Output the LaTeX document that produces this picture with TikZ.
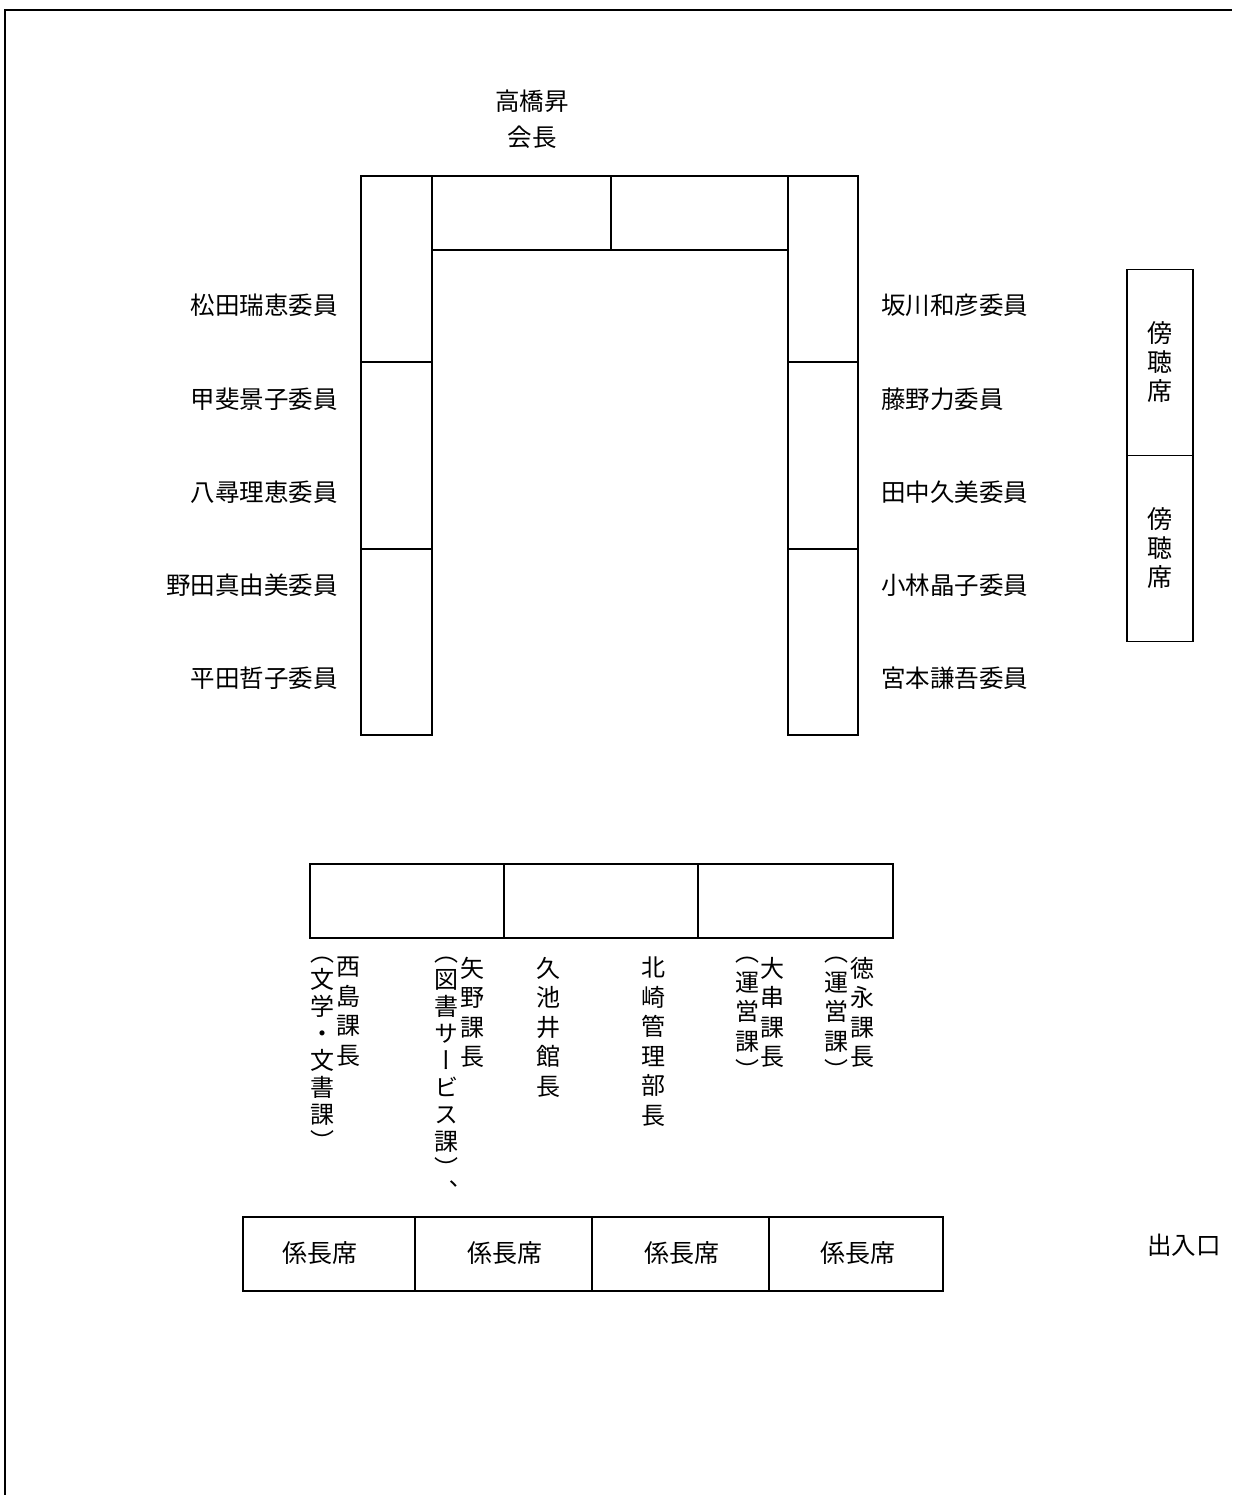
\documentclass[tikz,border=0pt]{standalone}
\usepackage{fontspec}
\setmainfont{Noto Sans CJK JP}
\newfontfamily\cjkv[RawFeature=+vert]{Noto Sans CJK JP}
\begin{document}
\begin{tikzpicture}[x=1pt,y=-1pt,
  tbl/.style={line width=1.6pt},
  frame/.style={line width=2.4pt},
  lab/.style={font=\fontsize{24.5}{28}\selectfont, inner sep=0pt},
  vlab/.style={font=\cjkv\fontsize{24}{29.5}\selectfont, align=center, anchor=north, inner sep=0pt},
  vlabtight/.style={vlab, font=\cjkv\fontsize{24}{27}\selectfont},
  kakari/.style={font=\fontsize{25}{28}\selectfont, inner sep=0pt},
  boxseat/.style={draw, line width=1.6pt, minimum width=66pt, minimum height=186pt, inner sep=0pt,
    align=center, font=\fontsize{25}{29}\selectfont}]
\useasboundingbox (0,0) rectangle (1232,1495);
% outer frame
\draw[frame] (5,1495) -- (5,10) -- (1232,10);
% chair
\node[lab] (chairname) at (532,101) {高橋昇};
\node[lab] (chair) at (532,137) {会長};
% U-shaped table
\draw[tbl] (361,176) rectangle (432,735);
\draw[tbl] (361,362) -- (432,362) (361,549) -- (432,549);
\draw[tbl] (432,176) rectangle (788,250);
\draw[tbl] (611,176) -- (611,250);
\draw[tbl] (788,176) rectangle (858,735);
\draw[tbl] (788,362) -- (858,362) (788,549) -- (858,549);
% left members
\node[lab, anchor=east] (l1) at (338,305) {松田瑞恵委員};
\node[lab, anchor=east] (l2) at (338,399) {甲斐景子委員};
\node[lab, anchor=east] (l3) at (338,492) {八尋理恵委員};
\node[lab, anchor=east] (l4) at (338,585) {野田真由美委員};
\node[lab, anchor=east] (l5) at (338,678) {平田哲子委員};
% right members
\node[lab, anchor=west] (r1) at (881,305) {坂川和彦委員};
\node[lab, anchor=west] (r2) at (881,399) {藤野力委員};
\node[lab, anchor=west] (r3) at (881,492) {田中久美委員};
\node[lab, anchor=west] (r4) at (881,585) {小林晶子委員};
\node[lab, anchor=west] (r5) at (881,678) {宮本謙吾委員};
% public seats
\node[boxseat] (pub1) at (1160,362.5) {傍\\聴\\席};
\node[boxseat] (pub2) at (1160,548.5) {傍\\聴\\席};
% staff table
\draw[tbl] (310,864) rectangle (893,938);
\draw[tbl] (504,864) -- (504,938) (698,864) -- (698,938);
% staff names (vertical)
\node[vlab] (s1a) at (348,957) {西\\島\\課\\長};
\node[vlabtight] (s1b) at (322,957) {（\\文\\学\\・\\文\\書\\課\\）};
\node[vlab] (s2a) at (472,957) {矢\\野\\課\\長};
\node[vlabtight] (s2b) at (446,957) {（\\図\\書\\サ\\ー\\ビ\\ス\\課\\）\\[-4pt]、};
\node[vlab] (s3) at (548,957) {久\\池\\井\\館\\長};
\node[vlab] (s4) at (653,957) {北\\崎\\管\\理\\部\\長};
\node[vlab] (s5a) at (772,957) {大\\串\\課\\長};
\node[vlab] (s5b) at (747,957) {（\\運\\営\\課\\）};
\node[vlab] (s6a) at (862,957) {徳\\永\\課\\長};
\node[vlab] (s6b) at (836,957) {（\\運\\営\\課\\）};
% kakaricho row
\draw[tbl] (243,1217) rectangle (943,1291);
\draw[tbl] (415,1217) -- (415,1291) (592,1217) -- (592,1291) (769,1217) -- (769,1291);
\node[kakari] (k1) at (320,1253) {係長席};
\node[kakari] (k2) at (505,1253) {係長席};
\node[kakari] (k3) at (682,1253) {係長席};
\node[kakari] (k4) at (858,1253) {係長席};
% entrance
\node[lab] (entrance) at (1184,1245) {出入口};
\end{tikzpicture}
\end{document}
